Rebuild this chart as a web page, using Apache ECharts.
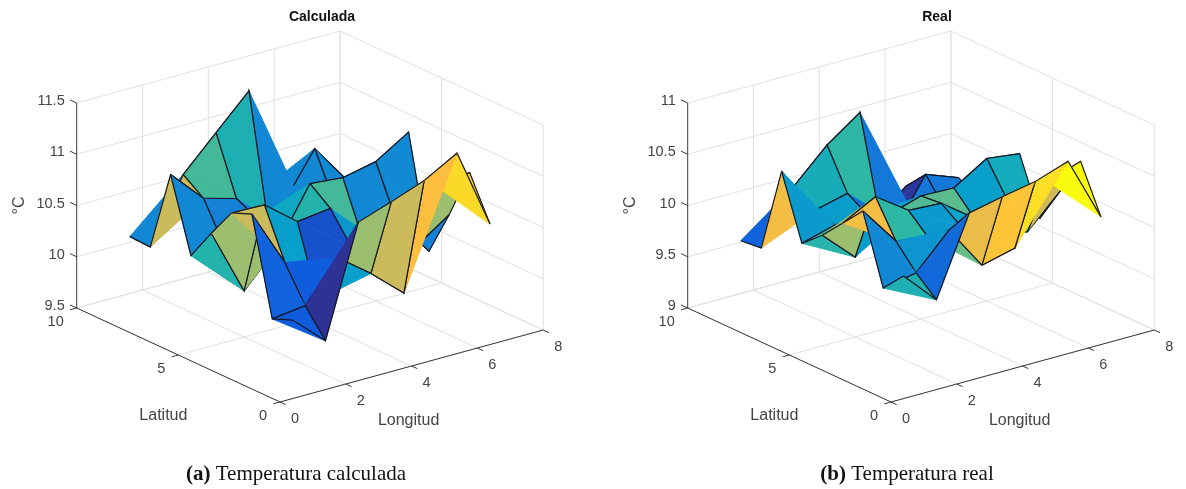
<!DOCTYPE html>
<html><head><meta charset="utf-8">
<style>html,body{margin:0;padding:0;background:#fff}#c{width:1186px;height:489px}</style>
<script src="https://cdn.jsdelivr.net/npm/echarts@6/dist/echarts.min.js"></script>
</head><body><div id="c"></div>
<script>
const longitudes = [1, 2, 3, 4, 5, 6, 7];
const latitudes = [1, 2, 3, 4, 5, 6, 7, 8, 9];
const lonTicks = [0, 2, 4, 6, 8];
const latTicks = [0, 5, 10];
const zTicksCalculada = [9.5, 10, 10.5, 11, 11.5];
const zTicksReal = [9, 9.5, 10, 10.5, 11];

// Temperature: one row per latitude, one column per longitude
const tempCalculada = [
  [10.12, 9.83, 10.90, 11.01, 11.13, 11.31, 10.53],
  [10.04, 10.08, 10.46, 10.22, 9.94, 10.89, 10.94],
  [10.97, 10.41, 9.96, 10.40, 10.32, 10.22, 10.44],
  [10.89, 10.88, 10.63, 10.67, 10.27, 10.38, 9.99],
  [10.60, 9.95, 10.29, 10.82, 10.79, 10.86, 11.06],
  [10.29, 10.31, 10.48, 10.26, 10.34, 10.49, 10.60],
  [10.99, 10.67, 10.58, 10.17, 10.34, 10.26, 10.17],
  [10.19, 10.81, 11.13, 11.45, 10.24, 10.71, 10.31],
  [10.20, 10.32, 10.19, 10.00, 10.30, 10.43, 9.84]
];
const tempReal = [
  [10.05, 9.73, 10.49, 10.56, 10.62, 10.73, 10.10],
  [9.84, 9.90, 10.23, 9.80, 9.88, 10.44, 10.55],
  [10.50, 10.12, 10.06, 10.08, 9.92, 9.86, 10.17],
  [10.29, 10.46, 10.24, 10.22, 9.99, 10.08, 9.81],
  [10.08, 9.78, 10.10, 10.20, 10.19, 10.39, 10.35],
  [9.91, 10.00, 10.01, 9.83, 9.84, 9.84, 9.90],
  [10.52, 10.05, 10.13, 9.78, 9.75, 9.69, 9.71],
  [9.68, 10.20, 10.51, 10.74, 9.48, 9.96, 9.84],
  [9.66, 9.73, 9.74, 9.55, 9.46, 9.75, 9.53]
];
// Face colour level (0..1 on the colour map), one per mesh cell
const levelCalculada = [
  [.13, .02, .66, .74, .87, .93],
  [.15, .13, .36, .36, .30, .66],
  [.74, .36, .10, .33, .25, .25],
  [.66, .66, .47, .53, .27, .28],
  [.47, .30, .40, .30, .30, .30],
  [.27, .25, .24, .30, .28, .27],
  [.74, .53, .45, .27, .27, .27],
  [.27, .30, .27, .27, .27, .27]
];
const levelReal = [
  [.45, .17, .82, .89, .94, 1.0],
  [.27, .32, .58, .50, .50, .75],
  [.85, .50, .34, .38, .30, .40],
  [.66, .35, .55, .56, .36, .42],
  [.48, .35, .35, .32, .37, .40],
  [.34, .35, .20, .20, .25, .25],
  [.85, .43, .50, .22, .22, .22],
  [.15, .30, .30, .30, .03, .20]
];

const parula = [[53,42,135],[15,92,221],[20,129,214],[6,164,202],[46,183,164],[135,191,119],[209,187,89],[253,190,61],[249,251,14]];
function colorAt(t) {
  const p = Math.min(.9999, Math.max(0, t)) * 8, i = Math.floor(p), f = p - i;
  const c = parula[i].map((v, k) => Math.round(v + (parula[i + 1][k] - v) * f));
  return 'rgb(' + c.join(',') + ')';
}

const LON_MAX = 8, LAT_MAX = 10;
const SANS = '"Liberation Sans", Arial, sans-serif';
const SERIF = '"Liberation Serif", serif';
const TXT = '#444';

function project(lon, lat, dz) {
  return [32.9 * lon - 20.33 * lat, 9 * lon + 9.4 * lat + 102.5 * dz];
}

function panel(idx, offset, temp, levels, zTicks) {
  const zMin = zTicks[0], zMax = zTicks[zTicks.length - 1];
  const P = (lon, lat, z) => project(lon, lat, z - zMin);
  const grid = { left: offset - 220, top: 2, width: 510, height: 420 };
  const xAxis = { gridIndex: idx, type: 'value', min: -220, max: 290, show: false };
  const yAxis = { gridIndex: idx, type: 'value', min: -20, max: 400, show: false };

  const light = [], dark = [];
  const seg = (arr, a, b) => arr.push([a[0], a[1], b[0], b[1]]);
  zTicks.forEach(z => {
    seg(light, P(0, LAT_MAX, z), P(LON_MAX, LAT_MAX, z));
    seg(light, P(LON_MAX, LAT_MAX, z), P(LON_MAX, 0, z));
    seg(dark, P(0, LAT_MAX, z), P(0, LAT_MAX + .33, z));
  });
  lonTicks.forEach(v => {
    seg(light, P(v, 0, zMin), P(v, LAT_MAX, zMin));
    if (v > 0) seg(light, P(v, LAT_MAX, zMin), P(v, LAT_MAX, zMax));
    seg(dark, P(v, 0, zMin), P(v, -.28, zMin));
  });
  latTicks.forEach(v => {
    seg(light, P(0, v, zMin), P(LON_MAX, v, zMin));
    seg(light, P(LON_MAX, v, zMin), P(LON_MAX, v, zMax));
    seg(dark, P(0, v, zMin), P(-.2, v, zMin));
  });
  seg(dark, P(0, LAT_MAX, zMin), P(0, LAT_MAX, zMax));
  seg(dark, P(0, 0, zMin), P(0, LAT_MAX, zMin));
  seg(dark, P(0, 0, zMin), P(LON_MAX, 0, zMin));

  const lineSeries = (data, color, width, z) => ({
    type: 'custom', xAxisIndex: idx, yAxisIndex: idx, coordinateSystem: 'cartesian2d',
    silent: true, animation: false, clip: false, z, data,
    renderItem: (p, api) => {
      const a = api.coord([api.value(0), api.value(1)]), b = api.coord([api.value(2), api.value(3)]);
      return { type: 'line', shape: { x1: a[0], y1: a[1], x2: b[0], y2: b[1] }, style: { stroke: color, lineWidth: width } };
    }
  });

  // Mesh cells from far to near, so that nearer faces paint over farther ones
  const cells = [];
  for (let j = latitudes.length - 2; j >= 0; j--)
    for (let i = longitudes.length - 2; i >= 0; i--) cells.push([i, j]);

  const surface = {
    type: 'custom', xAxisIndex: idx, yAxisIndex: idx, coordinateSystem: 'cartesian2d',
    silent: true, animation: false, clip: false, z: 3, data: cells,
    renderItem: (p, api) => {
      const i = api.value(0), j = api.value(1);
      const V = (a, b) => api.coord(P(longitudes[a], latitudes[b], temp[b][a]));
      const nearA = V(i, j), nearB = V(i + 1, j), farA = V(i, j + 1), farB = V(i + 1, j + 1);
      const fill = colorAt(levels[j][i]);
      const tri = pts => ({ type: 'polygon', shape: { points: pts }, style: { fill, stroke: fill, lineWidth: .6 } });
      const edge = pts => ({ type: 'polyline', shape: { points: pts }, style: { fill: null, stroke: '#15151f', lineWidth: 1.2 } });
      return { type: 'group', children: [
        tri([farA, farB, nearB]), edge([farA, farB, nearB]),
        tri([farA, nearA, nearB]), edge([farA, nearA, nearB])
      ] };
    }
  };

  // Text placed from axis values plus a small label offset: [x, y, dx, dy, align, text, rotated, size]
  const texts = [];
  zTicks.forEach(z => { const q = P(0, LAT_MAX, z); texts.push([q[0], q[1], -12, -2, 'right', String(z), 0, 14.5]); });
  latTicks.forEach(v => { const q = P(0, v, zMin); texts.push([q[0], q[1], -13, 14, 'right', String(v), 0, 14.5]); });
  lonTicks.forEach(v => { const q = P(v, 0, zMin); texts.push([q[0], q[1], 15, 17, 'center', String(v), 0, 14.5]); });
  const qLat = P(0, 5, zMin); texts.push([qLat[0], qLat[1], -15, 61, 'center', 'Latitud', 0, 16]);
  const qLon = P(4, 0, zMin); texts.push([qLon[0], qLon[1], -3, 55, 'center', 'Longitud', 0, 16]);
  const qZ = P(0, LAT_MAX, (zMin + zMax) / 2); texts.push([qZ[0], qZ[1], -57, 0, 'center', '°C', 1, 16]);

  const labels = {
    type: 'custom', xAxisIndex: idx, yAxisIndex: idx, coordinateSystem: 'cartesian2d',
    silent: true, animation: false, clip: false, z: 5, data: texts.map((t, k) => [t[0], t[1], k]),
    renderItem: (p, api) => {
      const t = texts[api.value(2)], c = api.coord([t[0], t[1]]);
      return { type: 'text', x: c[0] + t[2], y: c[1] + t[3], rotation: t[6] ? Math.PI / 2 : 0,
        style: { text: t[5], fill: TXT, font: t[7] + 'px ' + SANS, align: t[4], verticalAlign: 'middle' } };
    }
  };
  return { grid, xAxis, yAxis, series: [lineSeries(light, '#e0e0e0', 1, 1), lineSeries(dark, '#3a3a3a', 1, 2), surface, labels] };
}

const A = panel(0, 280, tempCalculada, levelCalculada, zTicksCalculada);
const B = panel(1, 891, tempReal, levelReal, zTicksReal);
const head = (text, x) => ({ text, left: x, top: 10, padding: 0, textAlign: 'center',
  textStyle: { fontFamily: SANS, fontSize: 14, fontWeight: 'bold', color: '#111' } });
const caption = (tag, rest, x) => ({ text: '{b|' + tag + '} {r|' + rest + '}', left: x, top: 464, padding: 0, textAlign: 'center',
  textStyle: { fontFamily: SERIF, fontSize: 21, fontWeight: 'normal', rich: {
    b: { fontFamily: SERIF, fontSize: 21, fontWeight: 'bold', color: '#111' },
    r: { fontFamily: SERIF, fontSize: 21, fontWeight: 'normal', color: '#111' } } } });

const chart = echarts.init(document.getElementById('c'), null, { renderer: 'canvas' });
chart.setOption({
  backgroundColor: '#fff', animation: false,
  title: [head('Calculada', 322), head('Real', 937), caption('(a)', 'Temperatura calculada', 296), caption('(b)', 'Temperatura real', 907)],
  grid: [A.grid, B.grid], xAxis: [A.xAxis, B.xAxis], yAxis: [A.yAxis, B.yAxis],
  series: A.series.concat(B.series)
});
</script></body></html>
